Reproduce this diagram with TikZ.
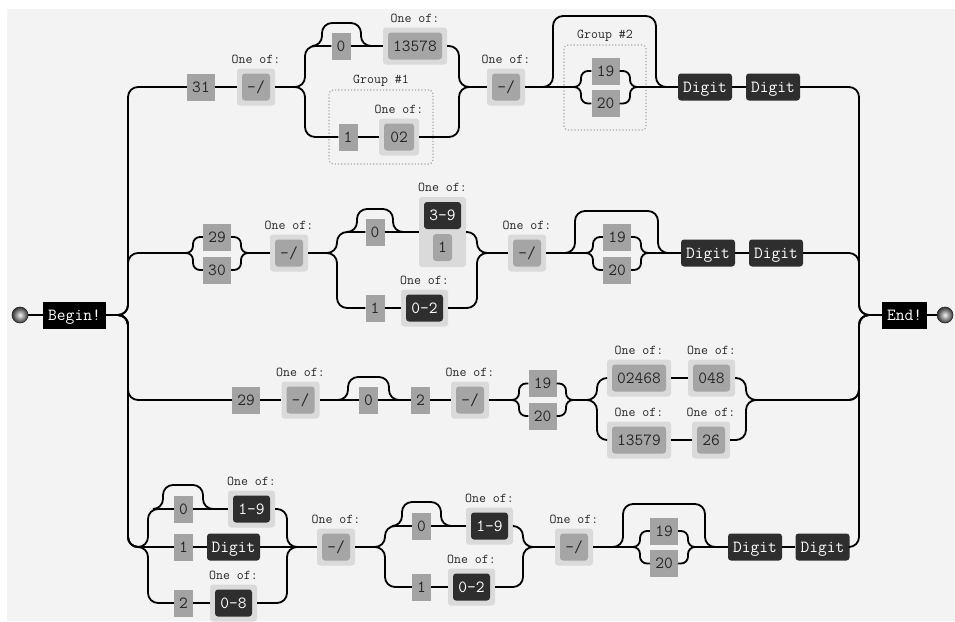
\documentclass[tikz,border=0pt]{standalone}
\usetikzlibrary{positioning}
\definecolor{bgc}{HTML}{F3F3F3}
\definecolor{litc}{HTML}{A3A3A3}
\definecolor{outc}{HTML}{DADADA}
\definecolor{inc}{HTML}{A5A5A5}
\definecolor{darkc}{HTML}{2E2E2E}
\definecolor{grpc}{HTML}{A8A8A8}
\tikzset{
  box/.style={inner sep=0pt, text height=10.5pt, text depth=0pt, minimum height=27pt,
    font=\ttfamily\fontsize{17}{17}\selectfont},
  lit/.style={box, fill=litc, text=black!85},
  clsout/.style={fill=outc, rounded corners=3pt, minimum height=37pt, inner sep=0pt},
  clsin/.style={box, fill=inc, rounded corners=3pt, text=black!85},
  dig/.style={box, fill=darkc, rounded corners=3pt, text=white},
  term/.style={box, fill=black, text=white},
  lbl/.style={inner sep=0pt, text depth=0pt, text=black!85,
    font=\ttfamily\fontsize{13.5}{13.5}\selectfont},
  grp/.style={draw=grpc, dotted, line width=1.2pt, rounded corners=4pt, inner sep=0pt},
  dot/.style={circle, inner sep=0pt, minimum size=16pt, draw=black!85, line width=0.6pt,
    inner color=white!90!gray, outer color=black!80},
  rr/.style={line width=1.8pt, rounded corners=10pt},
  rs/.style={line width=1.8pt, rounded corners=7pt},
}
\begin{document}
\begin{tikzpicture}[x=1pt,y=-1pt]
\useasboundingbox (0,0) rectangle (955,621);
\fill[bgc] (7,9) rectangle (955,621);

% start and end
\node[dot] (bdot) at (20,315) {};
\node[term, minimum width=63pt] (begin) at (74.5,315) {Begin!};
\node[term, minimum width=45pt] (end) at (904.5,315) {End!};
\node[dot] (edot) at (945,315) {};

% row 1
\node[grp, minimum width=104pt, minimum height=74pt] (g1) at (381,127) {};
\node[lbl, above=6pt of g1] (g1l) {Group \#1};
\node[grp, minimum width=82pt, minimum height=85pt] (g2) at (605,87.5) {};
\node[lbl, above=6pt of g2] (g2l) {Group \#2};
\node[lit, minimum width=28pt] (r1a) at (201,87) {31};
\node[clsout, minimum width=38pt] (r1b) at (256,87) {};
\node[clsin, minimum width=28pt] (r1bi) at (r1b) {-/};
\node[lbl, above=5pt of r1b] (r1bl) {One of:};
\node[lit, minimum width=19pt] (r1c) at (341,46) {0};
\node[clsout, minimum width=64pt] (r1d) at (415,46) {};
\node[clsin, minimum width=54pt] (r1di) at (r1d) {13578};
\node[lbl, above=5pt of r1d] (r1dl) {One of:};
\node[lit, minimum width=19pt] (r1e) at (348,137) {1};
\node[clsout, minimum width=40pt] (r1f) at (399,137) {};
\node[clsin, minimum width=30pt] (r1fi) at (r1f) {02};
\node[lbl, above=5pt of r1f] (r1fl) {One of:};
\node[clsout, minimum width=38pt] (r1g) at (506,87) {};
\node[clsin, minimum width=28pt] (r1gi) at (r1g) {-/};
\node[lbl, above=5pt of r1g] (r1gl) {One of:};
\node[lit, minimum width=28pt] (r1h) at (605.5,71) {19};
\node[lit, minimum width=28pt] (r1i) at (605.5,103.5) {20};
\node[dig, minimum width=54pt] (r1j) at (705,87) {Digit};
\node[dig, minimum width=54pt] (r1k) at (773,87) {Digit};

% row 2
\node[lit, minimum width=28pt] (r2a) at (217,237) {29};
\node[lit, minimum width=28pt] (r2b) at (217,270) {30};
\node[clsout, minimum width=38pt] (r2c) at (289,253) {};
\node[clsin, minimum width=28pt] (r2ci) at (r2c) {-/};
\node[lbl, above=5pt of r2c] (r2cl) {One of:};
\node[lit, minimum width=19pt] (r2d) at (375,232) {0};
\node[clsout, minimum width=47pt, minimum height=70pt] (r2e) at (442.5,232) {};
\node[dig, minimum width=37pt] (r2ea) at (442.5,215.5) {3-9};
\node[clsin, minimum width=19pt] (r2eb) at (442.5,247.5) {1};
\node[lbl, above=5pt of r2e] (r2el) {One of:};
\node[lit, minimum width=19pt] (r2f) at (375,308) {1};
\node[clsout, minimum width=47pt] (r2g) at (424.5,308) {};
\node[dig, minimum width=37pt] (r2gi) at (r2g) {0-2};
\node[lbl, above=5pt of r2g] (r2gl) {One of:};
\node[clsout, minimum width=38pt] (r2h) at (527,253) {};
\node[clsin, minimum width=28pt] (r2hi) at (r2h) {-/};
\node[lbl, above=5pt of r2h] (r2hl) {One of:};
\node[lit, minimum width=28pt] (r2i) at (617,237) {19};
\node[lit, minimum width=28pt] (r2j) at (617,270) {20};
\node[dig, minimum width=54pt] (r2k) at (708,253) {Digit};
\node[dig, minimum width=54pt] (r2l) at (776,253) {Digit};

% row 3
\node[lit, minimum width=28pt] (r3a) at (246,400) {29};
\node[clsout, minimum width=38pt] (r3b) at (300.5,400) {};
\node[clsin, minimum width=28pt] (r3bi) at (r3b) {-/};
\node[lbl, above=5pt of r3b] (r3bl) {One of:};
\node[lit, minimum width=19pt] (r3c) at (368.5,400) {0};
\node[lit, minimum width=19pt] (r3d) at (420.5,400) {2};
\node[clsout, minimum width=38pt] (r3e) at (470,400) {};
\node[clsin, minimum width=28pt] (r3ei) at (r3e) {-/};
\node[lbl, above=5pt of r3e] (r3el) {One of:};
\node[lit, minimum width=28pt] (r3f) at (542.5,383.5) {19};
\node[lit, minimum width=28pt] (r3g) at (542.5,416) {20};
\node[clsout, minimum width=64pt] (r3h) at (639,378) {};
\node[clsin, minimum width=54pt] (r3hi) at (r3h) {02468};
\node[lbl, above=5pt of r3h] (r3hl) {One of:};
\node[clsout, minimum width=47pt] (r3i) at (711.5,378) {};
\node[clsin, minimum width=37pt] (r3ii) at (r3i) {048};
\node[lbl, above=5pt of r3i] (r3il) {One of:};
\node[clsout, minimum width=64pt] (r3j) at (639,440) {};
\node[clsin, minimum width=54pt] (r3ji) at (r3j) {13579};
\node[lbl, above=5pt of r3j] (r3jl) {One of:};
\node[clsout, minimum width=38pt] (r3k) at (711,440) {};
\node[clsin, minimum width=28pt] (r3ki) at (r3k) {26};
\node[lbl, above=5pt of r3k] (r3kl) {One of:};

% row 4
\node[lit, minimum width=19pt] (r4a) at (183.5,509) {0};
\node[clsout, minimum width=47pt] (r4b) at (251.5,509) {};
\node[dig, minimum width=37pt] (r4bi) at (r4b) {1-9};
\node[lbl, above=5pt of r4b] (r4bl) {One of:};
\node[lit, minimum width=19pt] (r4c) at (183.5,547) {1};
\node[dig, minimum width=53pt] (r4d) at (233.5,547) {Digit};
\node[lit, minimum width=19pt] (r4e) at (183.5,603) {2};
\node[clsout, minimum width=47pt] (r4f) at (233.5,603) {};
\node[dig, minimum width=37pt] (r4fi) at (r4f) {0-8};
\node[lbl, above=5pt of r4f] (r4fl) {One of:};
\node[clsout, minimum width=38pt] (r4g) at (336,547) {};
\node[clsin, minimum width=28pt] (r4gi) at (r4g) {-/};
\node[lbl, above=5pt of r4g] (r4gl) {One of:};
\node[lit, minimum width=19pt] (r4h) at (421.5,526) {0};
\node[clsout, minimum width=47pt] (r4i) at (489.5,526) {};
\node[dig, minimum width=37pt] (r4ii) at (r4i) {1-9};
\node[lbl, above=5pt of r4i] (r4il) {One of:};
\node[lit, minimum width=19pt] (r4j) at (421.5,587) {1};
\node[clsout, minimum width=47pt] (r4k) at (471.5,587) {};
\node[dig, minimum width=37pt] (r4ki) at (r4k) {0-2};
\node[lbl, above=5pt of r4k] (r4kl) {One of:};
\node[clsout, minimum width=38pt] (r4l) at (574,547) {};
\node[clsin, minimum width=28pt] (r4li) at (r4l) {-/};
\node[lbl, above=5pt of r4l] (r4ll) {One of:};
\node[lit, minimum width=28pt] (r4m) at (664,531) {19};
\node[lit, minimum width=28pt] (r4n) at (664,563.5) {20};
\node[dig, minimum width=54pt] (r4o) at (755,547) {Digit};
\node[dig, minimum width=54pt] (r4p) at (822.5,547) {Digit};

% start and end rails
\draw[rr] (bdot) -- (begin);
\draw[rr] (end) -- (edot);

% row 1 rails
\draw[rr] (begin.east) -- (128,315) |- (r1a.west);
\draw[rr] (r1a) -- (r1b);
\draw[rr] (r1b.east) -- (305,87) |- (r1c.west);
\draw[rr] (r1b.east) -- (305,87) |- (r1e.west);
\draw[rr] (312,46) -- (322,46) -- (322,23) -- (361,23) -- (361,46) -- (371,46);
\draw[rr] (r1c) -- (r1d);
\draw[rr] (r1e) -- (r1f);
\draw[rr] (r1d.east) -| (459,87) -- (r1g.west);
\draw[rr] (r1f.east) -| (459,87) -- (r1g.west);
\draw[rs] (r1g.east) -- (581,87) |- (r1h.west);
\draw[rs] (r1g.east) -- (581,87) |- (r1i.west);
\draw[rs] (r1h.east) -| (630,87) -- (r1j.west);
\draw[rs] (r1i.east) -| (630,87) -- (r1j.west);
\draw[rr] (543,87) -- (553,87) -- (553,16) -- (656,16) -- (656,87) -- (666,87);
\draw[rr] (r1j) -- (r1k);
\draw[rr] (r1k.east) -| (859,315) -- (end.west);

% row 2 rails
\draw[rr] (begin.east) -- (128,315) |- (186,253);
\draw[rs] (183,253) -- (193,253) |- (r2a.west);
\draw[rs] (183,253) -- (193,253) |- (r2b.west);
\draw[rs] (r2a.east) -| (241,253) -- (r2c.west);
\draw[rs] (r2b.east) -| (241,253) -- (r2c.west);
\draw[rr] (r2c.east) -- (337,253) |- (r2d.west);
\draw[rr] (r2c.east) -- (337,253) |- (r2f.west);
\draw[rr] (347,232) -- (357,232) -- (357,209) -- (393,209) -- (393,232) -- (403,232);
\draw[rr] (r2d) -- (r2e);
\draw[rr] (r2f) -- (r2g);
\draw[rr] (r2e.east) -| (477,253) -- (r2h.west);
\draw[rr] (r2g.east) -| (477,253) -- (r2h.west);
\draw[rs] (r2h.east) -- (593,253) |- (r2i.west);
\draw[rs] (r2h.east) -- (593,253) |- (r2j.west);
\draw[rs] (r2i.east) -| (641,253) -- (r2k.west);
\draw[rs] (r2j.east) -| (641,253) -- (r2k.west);
\draw[rr] (565,253) -- (575,253) -- (575,211) -- (658,211) -- (658,253) -- (668,253);
\draw[rr] (r2k) -- (r2l);
\draw[rr] (r2l.east) -| (859,315) -- (end.west);

% row 3 rails
\coordinate (c3) at (587,400);
\draw[rr] (begin.east) -- (128,315) |- (r3a.west);
\draw[rr] (r3a) -- (r3b);
\draw[rr] (r3b) -- (r3c);
\draw[rr] (338,400) -- (348,400) -- (348,377) -- (389,377) -- (389,400) -- (399,400);
\draw[rr] (r3c) -- (r3d);
\draw[rr] (r3d) -- (r3e);
\draw[rs] (r3e.east) -- (519,400) |- (r3f.west);
\draw[rs] (r3e.east) -- (519,400) |- (r3g.west);
\draw[rs] (r3f.east) -| (566,400) -- (c3);
\draw[rs] (r3g.east) -| (566,400) -- (c3);
\draw[rr] (c3) -- (597,400) |- (r3h.west);
\draw[rr] (c3) -- (597,400) |- (r3j.west);
\draw[rr] (r3h) -- (r3i);
\draw[rr] (r3j) -- (r3k);
\draw[rr] (r3i.east) -| (746,400) -| (859,315) -- (end.west);
\draw[rr] (r3k.east) -| (746,400) -| (859,315) -- (end.west);

% row 4 rails
\draw[rr] (begin.east) -- (128,315) |- (148,547) |- (r4a.west);
\draw[rr] (begin.east) -- (128,315) |- (r4c.west);
\draw[rr] (begin.east) -- (128,315) |- (148,547) |- (r4e.west);
\draw[rr] (153,509) -- (163,509) -- (163,485) -- (203,485) -- (203,509) -- (213,509);
\draw[rr] (r4a) -- (r4b);
\draw[rr] (r4c) -- (r4d);
\draw[rr] (r4e) -- (r4f);
\draw[rr] (r4b.east) -| (287,547) -- (r4g.west);
\draw[rr] (r4d.east) -- (r4g.west);
\draw[rr] (r4f.east) -| (287,547) -- (r4g.west);
\draw[rr] (r4g.east) -- (385,547) |- (r4h.west);
\draw[rr] (r4g.east) -- (385,547) |- (r4j.west);
\draw[rr] (392,526) -- (402,526) -- (402,502) -- (441,502) -- (441,526) -- (451,526);
\draw[rr] (r4h) -- (r4i);
\draw[rr] (r4j) -- (r4k);
\draw[rr] (r4i.east) -| (523,547) -- (r4l.west);
\draw[rr] (r4k.east) -| (523,547) -- (r4l.west);
\draw[rs] (r4l.east) -- (640,547) |- (r4m.west);
\draw[rs] (r4l.east) -- (640,547) |- (r4n.west);
\draw[rs] (r4m.east) -| (688,547) -- (r4o.west);
\draw[rs] (r4n.east) -| (688,547) -- (r4o.west);
\draw[rr] (613,547) -- (623,547) -- (623,504) -- (705,504) -- (705,547) -- (715,547);
\draw[rr] (r4o) -- (r4p);
\draw[rr] (r4p.east) -| (859,315) -- (end.west);
\end{tikzpicture}
\end{document}
